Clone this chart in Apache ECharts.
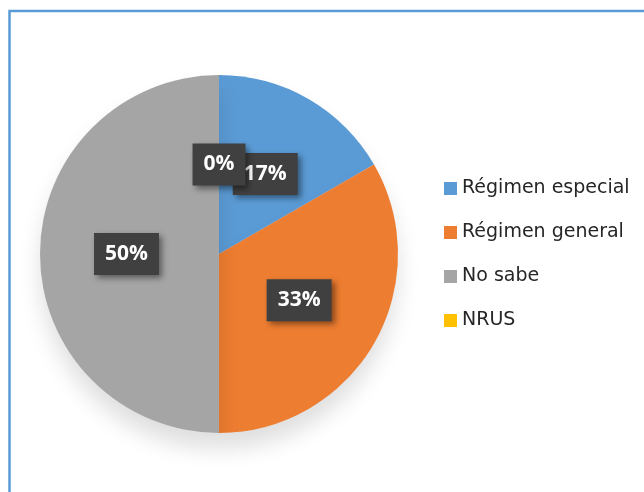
<!DOCTYPE html>
<html>
<head>
<meta charset="utf-8">
<script src="https://cdn.jsdelivr.net/npm/echarts@6/dist/echarts.min.js"></script>
<style>
  html, body { margin: 0; padding: 0; background: #fff; }
  #main { width: 644px; height: 492px; }
</style>
</head>
<body>
<div id="main"></div>
<script>
// categorias y valores (conteos: 1/6, 2/6, 3/6, 0)
var categories = ['Régimen especial', 'Régimen general', 'No sabe', 'NRUS'];
var values = [1, 2, 3, 0];
var colors = ['#5B9BD5', '#ED7D31', '#A5A5A5', '#FFC000'];

var chart = echarts.init(document.getElementById('main'));

var total = 0;
for (var k = 0; k < values.length; k++) total += values[k];

var data = [];
for (var i = 0; i < categories.length; i++) {
  data.push({ name: categories[i], value: values[i], itemStyle: { color: colors[i] } });
}

// las porciones con valor 0 no muestran etiqueta en el pie,
// se colocan con un scatter en coordenadas polares (mismo centro)
var zeroLabels = [];
var acc = 0;
for (var j = 0; j < values.length; j++) {
  if (values[j] === 0) {
    zeroLabels.push({ value: [0.5, acc + values[j] / 2], name: categories[j] });
  }
  acc += values[j];
}

var labelStyle = {
  show: true,
  fontFamily: 'Open Sans',
  fontWeight: 'bold',
  fontSize: 21,
  color: '#fff',
  backgroundColor: '#404040',
  padding: [11, 11, 10, 11],
  shadowColor: 'rgba(0,0,0,0.45)',
  shadowBlur: 6,
  shadowOffsetX: 3,
  shadowOffsetY: 3
};

var option = {
  backgroundColor: '#fff',
  animation: false,
  graphic: [{
    type: 'rect',
    shape: { x: 9.5, y: 11, width: 700, height: 600 },
    style: { fill: 'none', stroke: '#5B9BD5', lineWidth: 2.5 },
    silent: true
  }],
  polar: { center: [219, 254], radius: 179 },
  angleAxis: { type: 'value', min: 0, max: total, startAngle: 90, clockwise: true, show: false },
  radiusAxis: { type: 'value', min: 0, max: 1, show: false },
  legend: {
    orient: 'vertical',
    left: 439,
    top: 174,
    itemWidth: 13,
    itemHeight: 13,
    itemGap: 25,
    icon: 'rect',
    textStyle: { fontFamily: 'DejaVu Sans', fontSize: 19, color: '#262626' },
    data: categories
  },
  series: [{
    type: 'pie',
    center: [219, 254],
    radius: [0, 179],
    startAngle: 90,
    clockwise: true,
    avoidLabelOverlap: false,
    z: 2,
    itemStyle: {
      shadowBlur: 22,
      shadowOffsetY: 16,
      shadowColor: 'rgba(0,0,0,0.13)'
    },
    label: Object.assign({
      position: 'inside',
      formatter: function (p) { return Math.round(p.percent) + '%'; }
    }, labelStyle),
    labelLine: { show: false },
    emphasis: { disabled: true },
    data: data
  }, {
    type: 'scatter',
    coordinateSystem: 'polar',
    symbolSize: 0,
    silent: true,
    z: 10,
    itemStyle: { opacity: 1 },
    label: Object.assign({
      position: 'inside',
      formatter: function () { return '0%'; }
    }, labelStyle),
    emphasis: { disabled: true },
    data: zeroLabels
  }]
};

chart.setOption(option);
</script>
</body>
</html>
